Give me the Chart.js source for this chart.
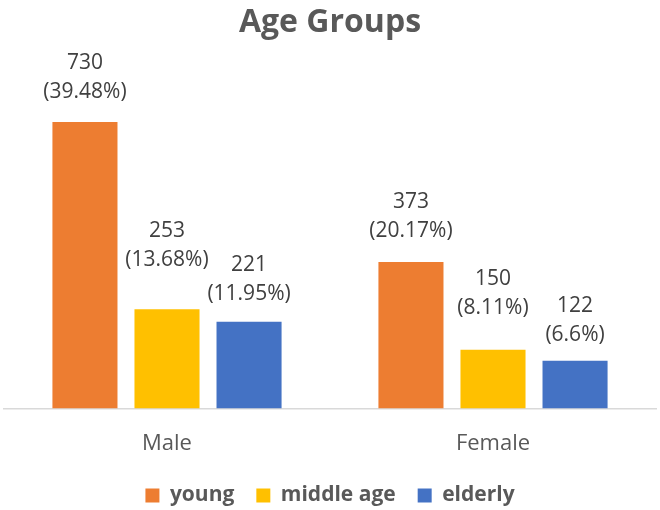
<!DOCTYPE html>
<html>
<head>
<meta charset="utf-8">
<script src="https://cdn.jsdelivr.net/npm/chart.js@4"></script>
<style>
  html, body { margin: 0; padding: 0; background: #ffffff; }
  #chart { display: block; }
</style>
</head>
<body>
<canvas id="chart" width="660" height="510"></canvas>
<script>
// data
const genders = ['Male', 'Female'];
const seriesNames = ['young', 'middle age', 'elderly'];
const young = [730, 373];
const middleAge = [253, 150];
const elderly = [221, 122];
const youngPct = ['39.48%', '20.17%'];
const middleAgePct = ['13.68%', '8.11%'];
const elderlyPct = ['11.95%', '6.6%'];

const colors = ['#ED7D31', '#FFC000', '#4472C4'];
const font = "'Open Sans', 'Liberation Sans', sans-serif";

// extra lift of a few labels, the way they sit in the original
const labelLift = [[2, 3], [21, 14], [0, -2]];

const pctLists = [youngPct, middleAgePct, elderlyPct];

// draws "value" and "(pct)" above every bar
const barLabels = {
  id: 'barLabels',
  afterDatasetsDraw(chart) {
    const ctx = chart.ctx;
    ctx.save();
    ctx.font = '21px ' + font;
    ctx.fillStyle = '#404040';
    ctx.textAlign = 'center';
    ctx.textBaseline = 'middle';
    chart.data.datasets.forEach((ds, i) => {
      chart.getDatasetMeta(i).data.forEach((bar, j) => {
        const y2 = bar.y - 28 - labelLift[i][j];
        ctx.fillText('(' + pctLists[i][j] + ')', bar.x, y2);
        ctx.fillText(String(ds.data[j]), bar.x, y2 - 29);
      });
    });
    ctx.restore();
  }
};

const datasets = [young, middleAge, elderly].map((vals, i) => ({
  label: seriesNames[i],
  data: vals,
  backgroundColor: colors[i],
  barPercentage: 0.793,
  categoryPercentage: 0.755
}));

new Chart(document.getElementById('chart'), {
  type: 'bar',
  data: { labels: genders, datasets: datasets },
  options: {
    responsive: false,
    animation: false,
    layout: { padding: { left: 4, right: 4, top: 4, bottom: -6 } },
    plugins: {
      title: {
        display: true,
        text: 'Age Groups',
        color: '#595959',
        font: { family: font, size: 32, weight: 'bold' },
        padding: { top: 0, bottom: 52 }
      },
      legend: {
        position: 'bottom',
        labels: {
          color: '#595959',
          font: { family: font, size: 21, weight: 'bold' },
          boxWidth: 14,
          boxHeight: 14,
          padding: 22
        }
      },
      tooltip: { enabled: false }
    },
    scales: {
      x: {
        grid: { display: false },
        border: { display: true, color: '#d9d9d9', width: 1.5 },
        ticks: { color: '#595959', font: { family: font, size: 22 }, padding: 14 },
        afterFit(scale) { scale.height -= 8; }
      },
      y: {
        display: false,
        min: 0,
        max: 800
      }
    }
  },
  plugins: [barLabels]
});
</script>
</body>
</html>
